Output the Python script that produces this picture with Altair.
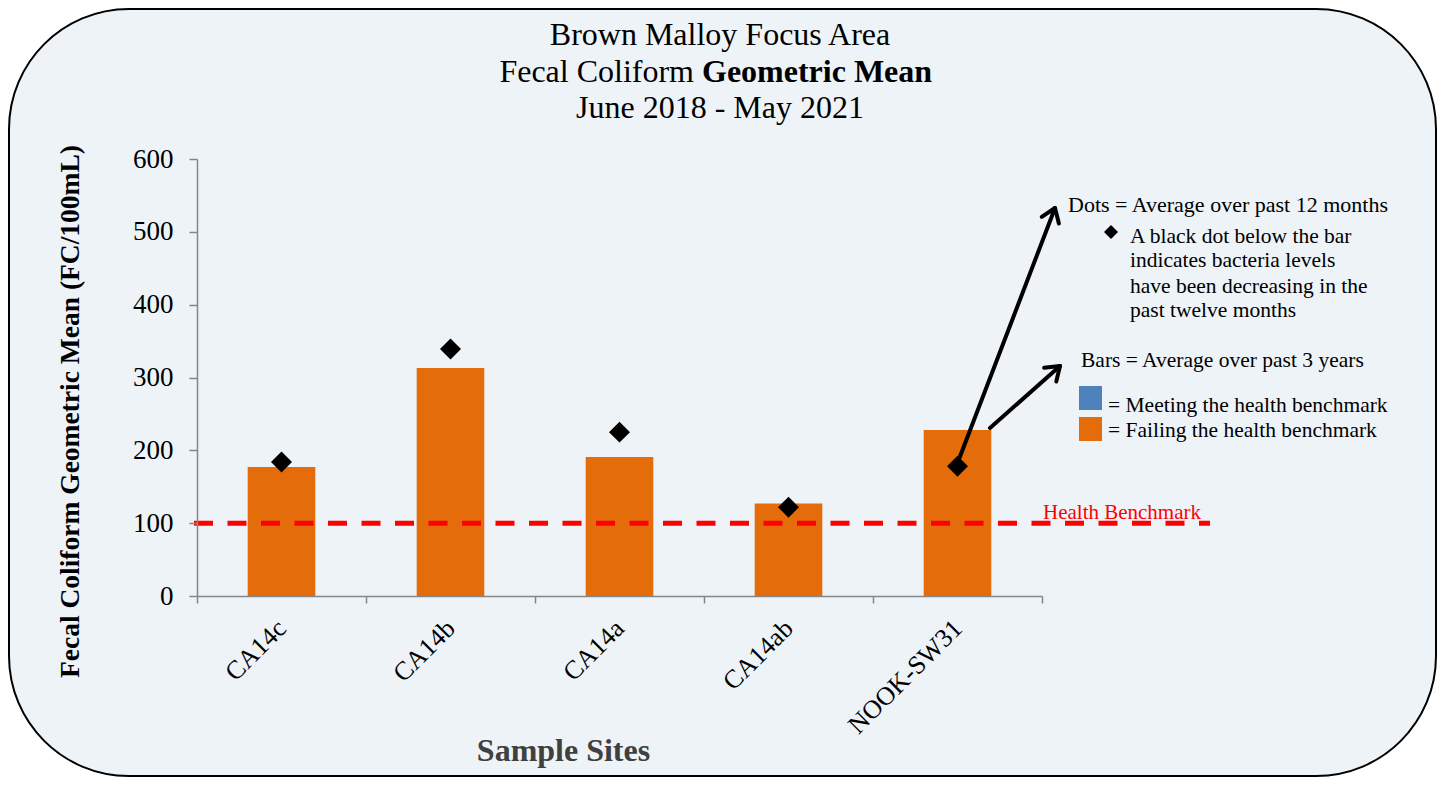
import math
import altair as alt
import pandas as pd

# ---- data ----
sites = ["CA14c", "CA14b", "CA14a", "CA14ab", "NOOK-SW31"]
three_year_mean = [177, 313, 191, 127, 228]
twelve_month_mean = [184, 339, 225, 122, 178]
benchmark = 100
y_ticks = [0, 100, 200, 300, 400, 500, 600]

title_lines = ["Brown Malloy Focus Area", "Fecal Coliform", "Geometric Mean", "June 2018 - May 2021"]
note_lines = [
    "Dots = Average  over past 12 months",
    "A black dot below  the bar",
    "indicates bacteria  levels",
    "have been decreasing in the",
    "past twelve months",
    "Bars = Average  over past  3 years",
    "= Meeting the health benchmark",
    "= Failing the health benchmark",
]
bench_label = "Health  Benchmark"

FONT = "Liberation Serif"
ORANGE = "#e46c0a"
BLUE = "#4f81bd"
BG = "#eef3f8"
AXIS_GRAY = "#868686"

df = pd.DataFrame({"site": sites, "bar": three_year_mean, "dot": twelve_month_mean})
one = pd.DataFrame({"k": [0]})

W, H = 845, 437

# background rounded panel
panel = alt.Chart(one).mark_rect(
    fill=BG, stroke="black", strokeWidth=2, cornerRadius=120
).encode(x=alt.value(-188), x2=alt.value(1239), y=alt.value(-150), y2=alt.value(617))

xenc = alt.X(
    "site:N",
    sort=sites,
    scale=alt.Scale(paddingInner=0, paddingOuter=0),
    axis=alt.Axis(
        zindex=1,
        labelAngle=315, labelAlign="right", labelBaseline="middle",
        labelFont=FONT, labelFontSize=26, labelColor="black", labelPadding=21,
        tickBand="extent", tickSize=7, tickColor=AXIS_GRAY, tickWidth=1.5,
        domainColor=AXIS_GRAY, domainWidth=1.5,
        title="Sample Sites", titleFont=FONT, titleFontSize=32, titleFontWeight="bold",
        titleColor="#404040", titleX=366, titleY=154, titleAlign="center",
        titleBaseline="middle",
    ),
)
yscale = alt.Scale(domain=[0, 600], nice=False)

bars = alt.Chart(df).mark_bar(color=ORANGE, width=alt.RelativeBandSize(0.4)).encode(
    x=xenc,
    y=alt.Y(
        "bar:Q",
        scale=yscale,
        axis=alt.Axis(
            zindex=1,
            values=y_ticks, grid=False,
            labelFont=FONT, labelFontSize=27, labelColor="black", labelPadding=16,
            tickSize=8, tickColor=AXIS_GRAY, tickWidth=1.5,
            domainColor=AXIS_GRAY, domainWidth=1.5,
            title="Fecal Coliform Geometric Mean (FC/100mL)", titleFont=FONT,
            titleFontSize=27.5, titleFontWeight="bold", titleColor="black",
            titleX=-127, titleY=252, titleAngle=270, titleAlign="center",
            titleBaseline="middle",
        ),
    ),
)

bench = alt.Chart(pd.DataFrame({"v": [benchmark]})).mark_rule(
    color="#ff0000", strokeWidth=5, strokeDash=[19, 14.5]
).encode(y=alt.Y("v:Q", scale=yscale), x=alt.value(-3), x2=alt.value(1013))

dots = alt.Chart(df).mark_point(
    shape="diamond", filled=True, color="black", size=440, opacity=1
).encode(x=alt.X("site:N", sort=sites), y=alt.Y("dot:Q", scale=yscale))


def txt(s, x, y, size=21.5, align="left", weight="normal", color="black"):
    return alt.Chart(one).mark_text(
        text=s, font=FONT, fontSize=size, align=align, baseline="alphabetic",
        fontWeight=weight, color=color,
    ).encode(x=alt.value(x), y=alt.value(y))


def seg(x1, y1, x2, y2, w=4):
    return alt.Chart(one).mark_rule(color="black", strokeWidth=w, strokeCap="round").encode(
        x=alt.value(x1), y=alt.value(y1), x2=alt.value(x2), y2=alt.value(y2)
    )


def arrow(x1, y1, x2, y2, L=16, ang=35):
    dx, dy = x2 - x1, y2 - y1
    n = math.hypot(dx, dy)
    ux, uy = dx / n, dy / n
    layers = [seg(x1, y1, x2, y2)]
    for s in (1, -1):
        a = math.radians(ang * s)
        rx = ux * math.cos(a) - uy * math.sin(a)
        ry = ux * math.sin(a) + uy * math.cos(a)
        layers.append(seg(x2, y2, x2 - L * rx, y2 - L * ry))
    return layers


titles = [
    txt(title_lines[0], 523, -114, size=32, align="center"),
    txt(title_lines[1], 497, -77, size=32, align="right"),
    txt(title_lines[2], 505, -77, size=32, align="left", weight="bold"),
    txt(title_lines[3], 523, -41, size=32, align="center"),
]

notes = [
    txt(note_lines[0], 871, 53, size=22),
    txt(note_lines[1], 933, 84),
    txt(note_lines[2], 933, 108),
    txt(note_lines[3], 933, 134),
    txt(note_lines[4], 933, 158),
    txt(note_lines[5], 884, 208),
    txt(note_lines[6], 911, 253),
    txt(note_lines[7], 911, 278),
    txt(bench_label, 846, 360, size=21, color="#ff0000"),
]

legend_diamond = alt.Chart(one).mark_point(
    shape="diamond", filled=True, color="black", size=196, opacity=1
).encode(x=alt.value(914), y=alt.value(73))

sq_blue = alt.Chart(one).mark_rect(color=BLUE).encode(
    x=alt.value(882), x2=alt.value(905), y=alt.value(227), y2=alt.value(251))
sq_orange = alt.Chart(one).mark_rect(color=ORANGE).encode(
    x=alt.value(882), x2=alt.value(905), y=alt.value(258), y2=alt.value(282))

arrows = arrow(759, 308, 858, 49) + arrow(793, 269, 863, 207)

chart = alt.layer(
    panel, bars, bench, dots, *arrows, *titles, *notes, legend_diamond, sq_blue, sq_orange
).properties(
    width=W, height=H,
    padding={"left": 189, "top": 151, "right": 395, "bottom": 182},
    autosize=alt.AutoSizeParams(type="none"),
).configure(background="white").configure_view(stroke=None)

chart.save("out.html", embed_options={"renderer": "svg", "actions": False})
